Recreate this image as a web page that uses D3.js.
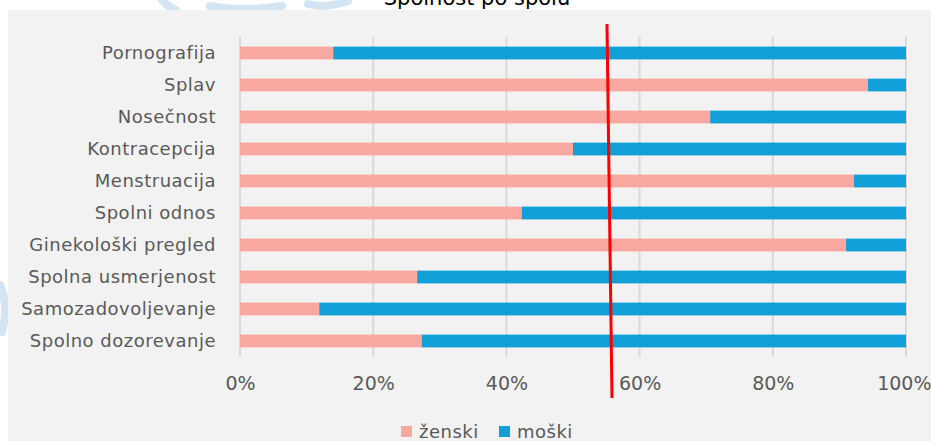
<!DOCTYPE html>
<html>
<head>
<meta charset="utf-8">
<script src="https://cdn.jsdelivr.net/npm/d3@7"></script>
<style>
  body { margin: 0; background: #fff; }
  svg { display: block; font-family: "DejaVu Sans", sans-serif; }
</style>
</head>
<body>
<div id="chart"></div>
<script>
// data (share of girls per topic)
const categories = ["Pornografija", "Splav", "Nosečnost", "Kontracepcija", "Menstruacija",
  "Spolni odnos", "Ginekološki pregled", "Spolna usmerjenost", "Samozadovoljevanje", "Spolno dozorevanje"]
const zenski = [0.14, 0.943, 0.706, 0.50, 0.922, 0.423, 0.91, 0.266, 0.119, 0.273]
const moski = zenski.map(v => 1 - v)
const seriesNames = ["ženski", "moški"]
const ticks = [0, 0.2, 0.4, 0.6, 0.8, 1]
const title = "Spolnost po spolu"

const W = 931, H = 441
const margin = { top: 37, right: 25, bottom: 84, left: 240 }
const w = W - margin.left - margin.right,
  h = H - margin.top - margin.bottom

const svg = d3.select("#chart").append("svg")
  .attr("width", W).attr("height", H)

// faint watermark strokes (only visible in the white margin)
const wm = svg.append("g").attr("fill", "none").attr("stroke", "#d3e4f3")
  .attr("stroke-width", 8).attr("stroke-linecap", "round")
wm.append("path").attr("d", "M162,0 Q168,7 176,10")
wm.append("path").attr("d", "M210,6 Q240,12 282,6")
wm.append("path").attr("d", "M308,4 Q325,9 348,1")
wm.append("path").attr("d", "M0,285 Q9,305 2,332")

svg.append("text")
  .attr("x", 477).attr("y", 5)
  .attr("text-anchor", "middle")
  .style("font-size", "21px")
  .attr("fill", "#000")
  .text(title)

// chart background
svg.append("rect").attr("x", 8).attr("y", 10).attr("width", W - 8).attr("height", H - 10)
  .attr("fill", "#f2f2f2")

const g = svg.append("g").attr("transform", `translate(${margin.left},${margin.top})`)

const x = d3.scaleLinear().domain([0, 1]).range([0, w])
const y = d3.scaleBand().domain(categories).range([0, h]).paddingInner(0.6).paddingOuter(0.3)

// gridlines
g.append("g").selectAll("line").data(ticks).join("line")
  .attr("x1", d => x(d)).attr("x2", d => x(d))
  .attr("y1", 0).attr("y2", h)
  .attr("stroke", "#d9d9d9").attr("stroke-width", 2)

// stacked bars
const rows = categories.map((c, i) => ({ c, z: zenski[i], m: moski[i] }))
g.append("g").selectAll("rect").data(rows).join("rect")
  .attr("x", x(0)).attr("y", d => y(d.c))
  .attr("width", d => x(d.z) - x(0)).attr("height", y.bandwidth())
  .attr("fill", "#f9a8a0")
g.append("g").selectAll("rect").data(rows).join("rect")
  .attr("x", d => x(d.z)).attr("y", d => y(d.c))
  .attr("width", d => x(d.z + d.m) - x(d.z)).attr("height", y.bandwidth())
  .attr("fill", "#109fd6")

// category labels
g.append("g").selectAll("text").data(categories).join("text")
  .attr("x", -24).attr("y", d => y(d) + y.bandwidth() / 2)
  .attr("dy", "0.35em")
  .attr("text-anchor", "end")
  .style("font-size", "18px").style("letter-spacing", "0.5px")
  .attr("fill", "#595959")
  .text(d => d)

// x axis labels
const xAxis = g.append("g").attr("transform", `translate(0,${h})`)
  .call(d3.axisBottom(x).tickValues(ticks).tickFormat(d3.format(".0%")).tickSize(0).tickPadding(20))
xAxis.select(".domain").remove()
xAxis.selectAll("text").style("font-size", "19px").attr("fill", "#595959")
  .style("font-family", "'DejaVu Sans', sans-serif")
// last label sits against the right edge
xAxis.selectAll("text").filter(d => d === 1).attr("text-anchor", "end").attr("x", 25)

// red marker line
svg.append("line")
  .attr("x1", 607).attr("y1", 24).attr("x2", 612).attr("y2", 398)
  .attr("stroke", "#ff0000").attr("stroke-width", 3)

// legend
const legend = svg.append("g").attr("transform", "translate(401,432)")
const colors = ["#f9a8a0", "#109fd6"]
const offs = [0, 98]
seriesNames.forEach((s, i) => {
  legend.append("rect").attr("x", offs[i]).attr("y", -6).attr("width", 11).attr("height", 11)
    .attr("fill", colors[i])
  legend.append("text").attr("x", offs[i] + 18).attr("y", 6)
    .style("font-size", "18px").style("letter-spacing", "0.5px")
    .attr("fill", "#595959").text(s)
})
</script>
</body>
</html>
